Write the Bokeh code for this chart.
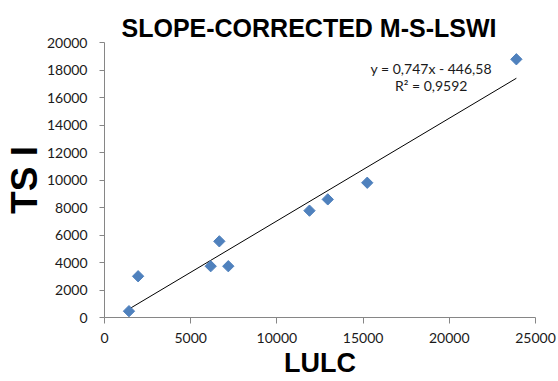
import numpy as np
from bokeh.plotting import figure
from bokeh.models import Label, Range1d, FixedTicker
from bokeh.embed import file_html
from bokeh.resources import INLINE

# data
lulc = [1420, 1950, 6160, 6660, 7180, 11890, 12950, 15240, 23890]
tsi = [460, 3000, 3730, 5540, 3730, 7770, 8590, 9800, 18780]
slope = 0.747
intercept = -446.58
r2 = 0.9592
x_ticks = [0, 5000, 10000, 15000, 20000, 25000]
y_ticks = [0, 2000, 4000, 6000, 8000, 10000, 12000, 14000, 16000, 18000, 20000]

title_text = "SLOPE-CORRECTED M-S-LSWI"
x_title = "LULC"
y_title = "TS I"

p = figure(width=558, height=381, output_backend="svg", toolbar_location=None,
           x_range=Range1d(0, 25000), y_range=Range1d(0, 20000),
           min_border_left=101, min_border_right=23, min_border_top=42, min_border_bottom=64,
           title=title_text)
p.outline_line_color = None
p.xgrid.visible = False
p.ygrid.visible = False
p.background_fill_color = "white"
p.border_fill_color = "white"

p.title.align = "left"
p.title.offset = 17
p.title.standoff = 2
p.title.text_font = "Liberation Sans"
p.title.text_font_style = "bold"
p.title.text_font_size = "25px"
p.title.text_color = "#000000"

axis_color = "#868686"
for ax, ticks in ((p.xaxis[0], x_ticks), (p.yaxis[0], y_ticks)):
    ax.ticker = FixedTicker(ticks=ticks)
    ax.axis_line_color = axis_color
    ax.major_tick_line_color = axis_color
    ax.major_tick_out = 6
    ax.major_tick_in = 0
    ax.minor_tick_line_color = None
    ax.major_label_text_font = "Lato"
    ax.major_label_text_font_size = "14px"
    ax.major_label_text_color = "#1a1a1a"
    ax.axis_label_text_font = "Liberation Sans"
    ax.axis_label_text_font_style = "bold"
    ax.axis_label_text_color = "#000000"
p.xaxis[0].major_label_standoff = 9
p.yaxis[0].major_label_standoff = 12
p.yaxis[0].major_tick_out = 5

p.xaxis[0].axis_label = x_title
p.xaxis[0].axis_label_text_font_size = "27px"
p.xaxis[0].axis_label_standoff = 2
p.yaxis[0].axis_label = y_title
p.yaxis[0].axis_label_text_font_size = "37px"
p.yaxis[0].axis_label_standoff = -1

# trendline from the stated fit, over the data's x extent
xl = np.array([min(lulc), max(lulc)])
p.line(xl, slope * xl + intercept, line_color="#000000", line_width=1)

p.scatter(lulc, tsi, marker="square", angle=np.pi / 4, size=8,
          fill_color="#4F81BD", line_color="#4F81BD")

eq1 = "y = " + f"{slope:.3f}".replace(".", ",") + "x - " + f"{abs(intercept):.2f}".replace(".", ",")
eq2 = "R\u00b2 = " + f"{r2:.4f}".replace(".", ",")
p.add_layout(Label(x=18950, y=18080, text=eq1, text_align="center", text_baseline="middle",
                   text_font="Lato", text_font_size="14px", text_color="#1a1a1a"))
p.add_layout(Label(x=18950, y=16850, text=eq2, text_align="center", text_baseline="middle",
                   text_font="Lato", text_font_size="14px", text_color="#1a1a1a"))

open("out.html", "w").write(file_html(p, INLINE))
